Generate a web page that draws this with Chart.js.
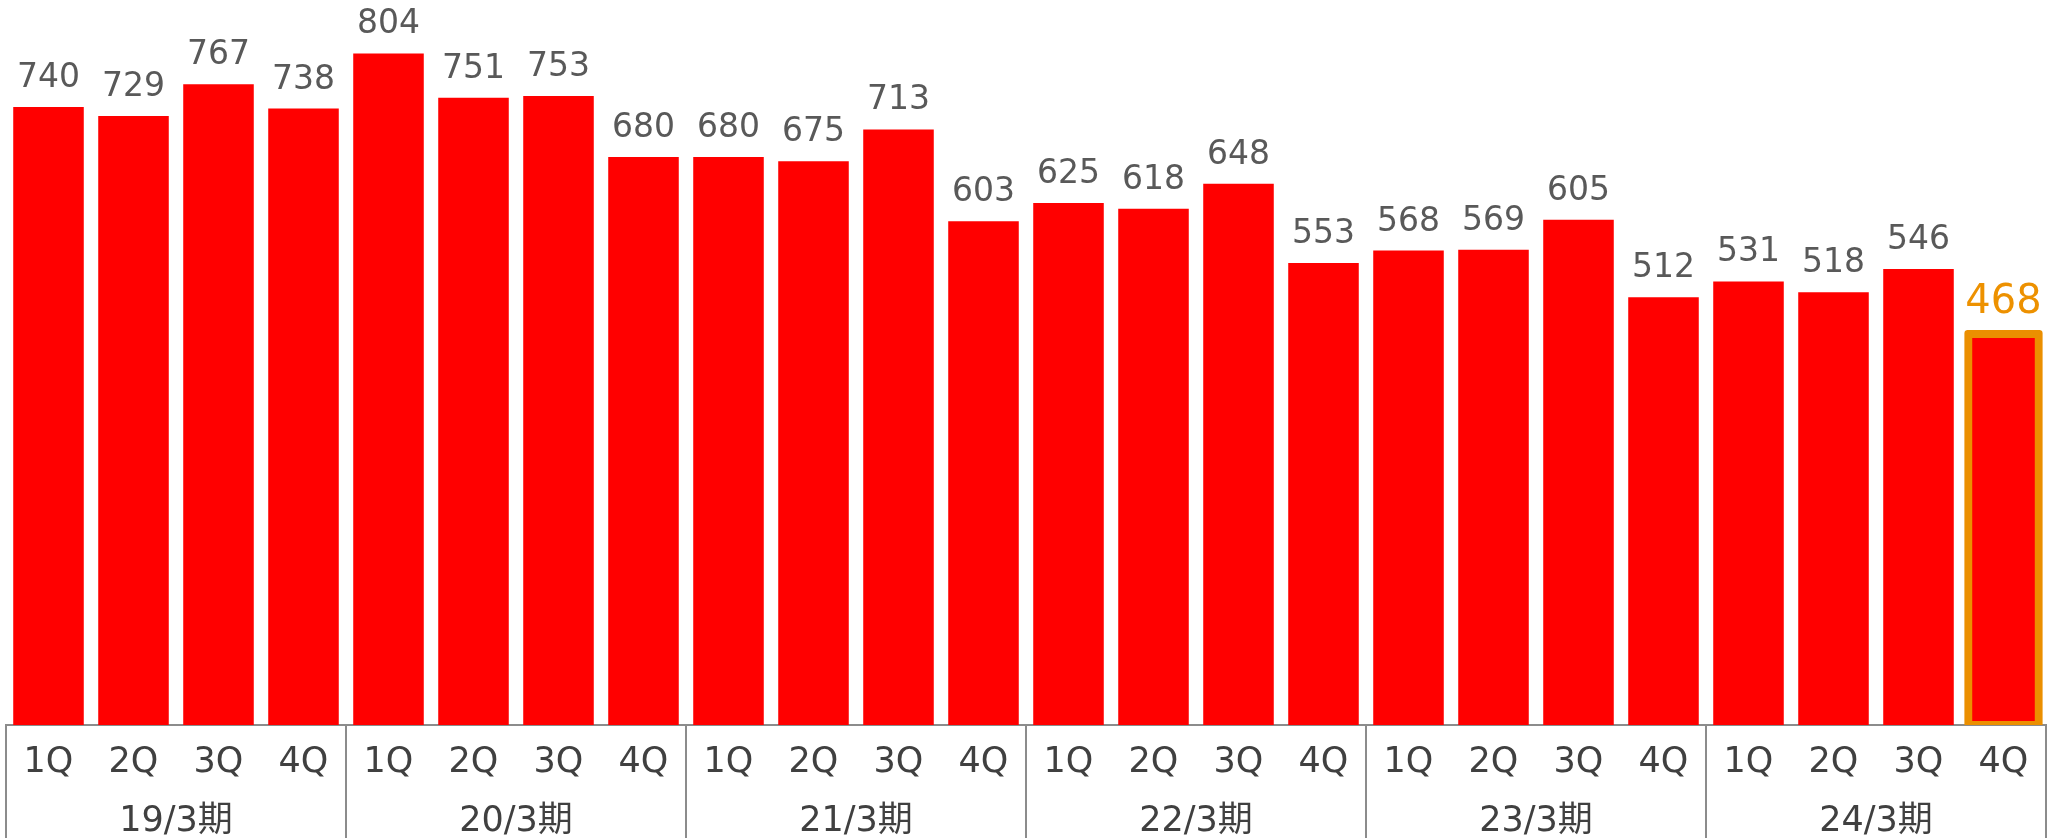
<!DOCTYPE html>
<html lang="ja">
<head>
    <meta charset="UTF-8">
    <title>四半期推移</title>
    <script src="https://cdn.jsdelivr.net/npm/chart.js"></script>
    <style>
        html, body {
            margin: 0;
            padding: 0;
            background: #fff;
        }
        .chart-box {
            position: relative;
            width: 2062px;
            height: 838px;
        }
    </style>
</head>
<body>
    <div class="chart-box">
        <canvas id="qChart"></canvas>
    </div>

    <script>
        const quarters = ['1Q', '2Q', '3Q', '4Q', '1Q', '2Q', '3Q', '4Q',
                          '1Q', '2Q', '3Q', '4Q', '1Q', '2Q', '3Q', '4Q',
                          '1Q', '2Q', '3Q', '4Q', '1Q', '2Q', '3Q', '4Q'];
        const periods = ['19/3期', '20/3期', '21/3期', '22/3期', '23/3期', '24/3期'];
        const values = [740, 729, 767, 738,
                        804, 751, 753, 680,
                        680, 675, 713, 603,
                        625, 618, 648, 553,
                        568, 569, 605, 512,
                        531, 518, 546, 468];

        const lastIdx = values.length - 1;
        const numFont = '"DejaVu Sans", "Noto Sans CJK JP", sans-serif';

        // value above each bar (latest quarter is larger and orange)
        const valueLabels = {
            id: 'valueLabels',
            afterDatasetsDraw(chart) {
                const ctx = chart.ctx;
                const meta = chart.getDatasetMeta(0);
                ctx.save();
                ctx.textAlign = 'center';
                ctx.textBaseline = 'alphabetic';
                meta.data.forEach((bar, i) => {
                    if (i === lastIdx) {
                        ctx.font = '40px ' + numFont;
                        ctx.fillStyle = '#ED9100';
                        ctx.fillText(values[i], bar.x, bar.y - 21);
                    } else {
                        ctx.font = '33px ' + numFont;
                        ctx.fillStyle = '#595959';
                        ctx.fillText(values[i], bar.x, bar.y - 20);
                    }
                });
                ctx.restore();
            }
        };

        // boxes + fiscal year labels under the quarter labels
        const periodGroups = {
            id: 'periodGroups',
            afterDraw(chart) {
                const {ctx, chartArea} = chart;
                const x = chart.scales.x;
                const per = quarters.length / periods.length;
                const top = chartArea.bottom;
                const bottom = chart.height;
                ctx.save();
                ctx.strokeStyle = '#8c8c8c';
                ctx.lineWidth = 2;
                for (let g = 0; g <= periods.length; g++) {
                    let xp;
                    if (g === 0) xp = chartArea.left;
                    else if (g === periods.length) xp = chartArea.right;
                    else xp = (x.getPixelForValue(g * per - 1) + x.getPixelForValue(g * per)) / 2;
                    ctx.beginPath();
                    ctx.moveTo(xp, top);
                    ctx.lineTo(xp, bottom);
                    ctx.stroke();
                }
                ctx.font = '35px ' + numFont;
                ctx.fillStyle = '#404040';
                ctx.textAlign = 'center';
                ctx.textBaseline = 'alphabetic';
                periods.forEach((p, g) => {
                    const cx = (x.getPixelForValue(g * per) + x.getPixelForValue(g * per + per - 1)) / 2;
                    ctx.fillText(p, cx, 831);
                });
                ctx.restore();
            }
        };

        const ctxQ = document.getElementById('qChart').getContext('2d');
        const qChart = new Chart(ctxQ, {
            type: 'bar',
            data: {
                labels: quarters,
                datasets: [{
                    data: values,
                    backgroundColor: '#FF0000',
                    borderColor: '#EB8F00',
                    borderWidth: c => c.dataIndex === lastIdx ? 8 : 0,
                    borderSkipped: false,
                    borderRadius: c => c.dataIndex === lastIdx ? 3 : 0,
                    inflateAmount: c => c.dataIndex === lastIdx ? 4 : 'auto',
                    barPercentage: 0.83,
                    categoryPercentage: 1.0
                }]
            },
            options: {
                responsive: true,
                maintainAspectRatio: false,
                animation: false,
                layout: {
                    padding: {left: 6, right: 16, top: 0, bottom: 0}
                },
                plugins: {
                    legend: {display: false},
                    tooltip: {enabled: false}
                },
                scales: {
                    x: {
                        grid: {display: false, drawTicks: false},
                        border: {display: true, color: '#8c8c8c', width: 2},
                        ticks: {
                            color: '#404040',
                            font: {family: numFont, size: 35},
                            padding: 17,
                            maxRotation: 0,
                            autoSkip: false
                        },
                        afterFit(scale) {
                            scale.height = 113;
                        }
                    },
                    y: {
                        display: false,
                        min: 0,
                        max: 868
                    }
                }
            },
            plugins: [valueLabels, periodGroups]
        });
    </script>
</body>
</html>
